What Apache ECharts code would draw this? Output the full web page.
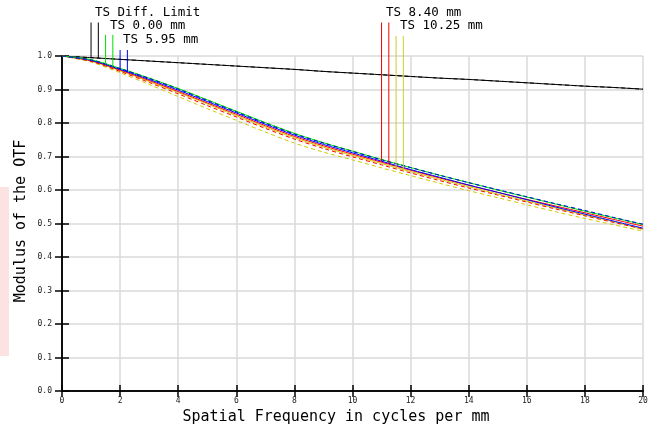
<!DOCTYPE html>
<html>
<head>
<meta charset="utf-8">
<script src="https://cdn.jsdelivr.net/npm/echarts@6/dist/echarts.min.js"></script>
<style>
  html, body { margin: 0; padding: 0; background: #fff; }
  #chart { width: 654px; height: 428px; }
</style>
</head>
<body>
<div id="chart"></div>
<script>
// spatial frequency samples (cycles per mm)
const freq = [0, 1, 2, 3, 4, 5, 6, 7, 8, 9, 10, 11, 12, 13, 14, 15, 16, 17, 18, 19, 20];

// MTF values
const diffT   = [1.000, 0.995, 0.990, 0.985, 0.980, 0.975, 0.970, 0.965, 0.960, 0.954, 0.949, 0.944, 0.939, 0.934, 0.930, 0.925, 0.920, 0.915, 0.910, 0.906, 0.901];
const diffS   = [1.000, 0.995, 0.990, 0.985, 0.980, 0.975, 0.970, 0.965, 0.960, 0.954, 0.949, 0.944, 0.939, 0.934, 0.930, 0.925, 0.920, 0.915, 0.910, 0.906, 0.901];
const f0T     = [1.000, 0.989, 0.963, 0.934, 0.903, 0.869, 0.835, 0.801, 0.769, 0.741, 0.716, 0.691, 0.667, 0.644, 0.622, 0.600, 0.579, 0.558, 0.537, 0.517, 0.497];
const f0S     = [1.000, 0.989, 0.963, 0.934, 0.903, 0.869, 0.835, 0.801, 0.769, 0.741, 0.716, 0.691, 0.667, 0.644, 0.622, 0.600, 0.579, 0.558, 0.537, 0.517, 0.497];
const f595T   = [1.000, 0.987, 0.960, 0.930, 0.898, 0.864, 0.830, 0.796, 0.764, 0.736, 0.711, 0.686, 0.661, 0.638, 0.615, 0.593, 0.571, 0.549, 0.528, 0.507, 0.486];
const f595S   = [1.000, 0.988, 0.962, 0.933, 0.901, 0.867, 0.833, 0.799, 0.767, 0.740, 0.715, 0.690, 0.667, 0.644, 0.622, 0.601, 0.580, 0.559, 0.539, 0.518, 0.498];
const f840T   = [1.000, 0.986, 0.958, 0.927, 0.894, 0.860, 0.826, 0.792, 0.760, 0.732, 0.707, 0.683, 0.659, 0.636, 0.614, 0.593, 0.572, 0.552, 0.532, 0.512, 0.492];
const f840S   = [1.000, 0.984, 0.954, 0.921, 0.887, 0.852, 0.818, 0.784, 0.752, 0.724, 0.699, 0.675, 0.651, 0.628, 0.606, 0.585, 0.564, 0.543, 0.523, 0.503, 0.484];
const f1025T  = [1.000, 0.985, 0.956, 0.924, 0.891, 0.857, 0.822, 0.788, 0.756, 0.728, 0.703, 0.679, 0.655, 0.632, 0.610, 0.588, 0.567, 0.546, 0.525, 0.505, 0.482];
const f1025S  = [1.000, 0.982, 0.950, 0.915, 0.879, 0.843, 0.808, 0.773, 0.740, 0.713, 0.690, 0.666, 0.643, 0.620, 0.598, 0.577, 0.556, 0.535, 0.515, 0.496, 0.477];

// legend marker lines: x positions, top (above frame) and bottom (on curve)
const legendNames  = ['TS Diff. Limit', 'TS 0.00 mm', 'TS 5.95 mm', 'TS 8.40 mm', 'TS 10.25 mm'];
const legendColors = ['#000000', '#00dd00', '#0000ee', '#ee0000', '#cccc33'];
const markerX      = [[1.0, 1.25], [1.5, 1.75], [2.0, 2.25], [11.0, 11.25], [11.5, 11.75]];
const markerTop    = [1.100, 1.063, 1.018, 1.100, 1.060];
const markerBottom = [[0.995, 0.994], [0.975, 0.966], [0.960, 0.952], [0.684, 0.678], [0.666, 0.655]];

const chart = echarts.init(document.getElementById('chart'));
const mono = 'DejaVu Sans Mono';

const pair = (ys) => freq.map((x, i) => [x, ys[i]]);

function curve(name, ys, color, dashed) {
  return {
    name: name,
    type: 'line',
    data: pair(ys),
    smooth: 0.3,
    symbol: 'none',
    lineStyle: { color: color, width: 1, type: dashed ? [4, 3] : 'solid' },
    silent: true,
    z: 3
  };
}

const series = [
  curve('diffT', diffT, '#000000', false),
  curve('diffS', diffS, '#000000', true),
  curve('f1025S', f1025S, '#cccc00', true),
  curve('f1025T', f1025T, '#cccc00', false),
  curve('f840S', f840S, '#ff0000', true),
  curve('f840T', f840T, '#ff0000', false),
  curve('f595T', f595T, '#0000ff', false),
  curve('f0T', f0T, '#00dd00', false),
  curve('f0S', f0S, '#00dd00', true),
  curve('f595S', f595S, '#0000ff', true)
];

markerX.forEach((xs, i) => {
  xs.forEach((x, j) => {
    series.push({
      type: 'line',
      data: [[x, markerBottom[i][j]], [x, markerTop[i]]],
      symbol: 'none',
      clip: false,
      silent: true,
      lineStyle: { color: legendColors[i], width: 1 },
      z: 4
    });
  });
});

// legend label positions (pixels)
const labelPos = [[95, 14], [110, 27], [123, 41], [386, 14], [400, 27]];

const axisLine = { show: true, lineStyle: { color: '#000', width: 1.5 } };
const tick = (len) => ({ show: true, inside: true, length: len, lineStyle: { color: '#000', width: 1.5 } });

const option = {
  animation: false,
  backgroundColor: '#ffffff',
  grid: { left: 62, right: 11, top: 56, bottom: 37 },
  xAxis: [
    {
      type: 'value', min: 0, max: 20, interval: 2,
      axisLine: axisLine, axisTick: tick(6),
      axisLabel: { fontFamily: mono, fontSize: 8, color: '#222', margin: 6 },
      splitLine: { show: true, lineStyle: { color: '#dadada', width: 1.5 } }
    },
    {
      type: 'value', min: 0, max: 20, interval: 2, position: 'top',
      axisLine: axisLine, axisTick: tick(6),
      axisLabel: { show: false }, splitLine: { show: false }
    }
  ],
  yAxis: [
    {
      type: 'value', min: 0, max: 1, interval: 0.1,
      axisLine: axisLine, axisTick: tick(7),
      axisLabel: { fontFamily: mono, fontSize: 8, color: '#222', margin: 10,
        formatter: (v) => v.toFixed(1) },
      splitLine: { show: true, lineStyle: { color: '#dadada', width: 1.5 } }
    },
    {
      type: 'value', min: 0, max: 1, interval: 0.1, position: 'right',
      axisLine: axisLine, axisTick: tick(7),
      axisLabel: { show: false }, splitLine: { show: false }
    }
  ],
  graphic: [
    {
      type: 'rect', left: 0, top: 187, z: -1,
      shape: { width: 9, height: 169 },
      style: { fill: '#fde2e2' }
    },
    {
      type: 'text', x: 336, y: 417,
      style: { text: 'Spatial Frequency in cycles per mm', fontFamily: mono, fontSize: 15,
        fill: '#000', align: 'center', verticalAlign: 'middle' }
    },
    {
      type: 'text', x: 21, y: 221, rotation: Math.PI / 2,
      style: { text: 'Modulus of the OTF', fontFamily: mono, fontSize: 15,
        fill: '#000', align: 'center', verticalAlign: 'middle' }
    }
  ].concat(legendNames.map((t, i) => ({
    type: 'text', left: labelPos[i][0], top: labelPos[i][1] - 8,
    style: { text: t, fontFamily: mono, fontSize: 12.5, fill: '#000' }
  }))),
  series: series
};
option && chart.setOption(option);
</script>
</body>
</html>
